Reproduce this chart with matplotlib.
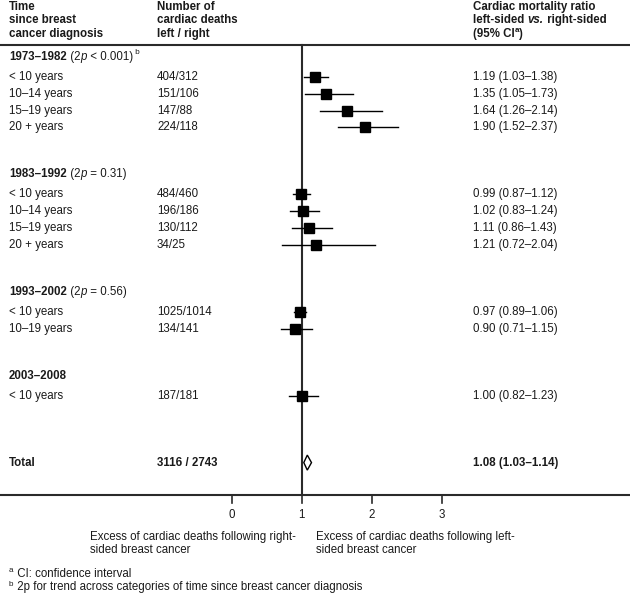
import matplotlib.pyplot as plt

plt.rcParams['font.family'] = ['Liberation Sans', 'DejaVu Sans']

# data
groups = ["1973\u20131982", "1983\u20131992", "1993\u20132002", "2003\u20132008"]
trend_p = ["< 0.001", "= 0.31", "= 0.56", None]
periods = [
    ["< 10 years", "10\u201314 years", "15\u201319 years", "20 + years"],
    ["< 10 years", "10\u201314 years", "15\u201319 years", "20 + years"],
    ["< 10 years", "10\u201319 years"],
    ["< 10 years"],
]
deaths = [
    ["404/312", "151/106", "147/88", "224/118"],
    ["484/460", "196/186", "130/112", "34/25"],
    ["1025/1014", "134/141"],
    ["187/181"],
]
ratio = [[1.19, 1.35, 1.64, 1.90], [0.99, 1.02, 1.11, 1.21], [0.97, 0.90], [1.00]]
ci_lo = [[1.03, 1.05, 1.26, 1.52], [0.87, 0.83, 0.86, 0.72], [0.89, 0.71], [0.82]]
ci_hi = [[1.38, 1.73, 2.14, 2.37], [1.12, 1.24, 1.43, 2.04], [1.06, 1.15], [1.23]]
total_deaths = "3116 / 2743"
total_ratio, total_lo, total_hi = 1.08, 1.03, 1.14
ticks = [0, 1, 2, 3]

FS = 8.3
INK = '#1a1a1a'
LINE = '#2a2a2a'

fig = plt.figure(figsize=(6.3, 5.98), dpi=100)
ax = fig.add_axes([0, 0, 1, 1])
x0_px, unit_px = 231.7, 70.0
ax.set_xlim(-x0_px / unit_px, (630 - x0_px) / unit_px)
ax.set_ylim(598, 0)
ax.axis('off')
renderer = fig.canvas.get_renderer()


def px(p):
    return (p - x0_px) / unit_px


def parts_text(x_px, y, parts):
    # draw consecutive text pieces with different styles on one line
    x = x_px
    for s, kw in parts:
        kw = dict(kw)
        dy = kw.pop('dy', 0)
        t = ax.text(px(x), y - dy, s, va='center', ha='left', color=INK,
                    fontsize=kw.pop('size', FS), **kw)
        x += t.get_window_extent(renderer).width


col0, col1, col2 = 9, 157, 473

# column headers
for i, (a, b, c) in enumerate(zip(["Time", "since breast", "cancer diagnosis"],
                                  ["Number of", "cardiac deaths", "left / right"],
                                  ["Cardiac mortality ratio", None, None])):
    y = 7 + i * 13.3
    ax.text(px(col0), y, a, fontweight='bold', fontsize=FS, va='center', color=INK)
    ax.text(px(col1), y, b, fontweight='bold', fontsize=FS, va='center', color=INK)
    if c:
        ax.text(px(col2), y, c, fontweight='bold', fontsize=FS, va='center', color=INK)
parts_text(col2, 7 + 13.3, [("left-sided ", dict(fontweight='bold')),
                            ("vs.", dict(fontweight='bold', style='italic')),
                            (" right-sided", dict(fontweight='bold'))])
parts_text(col2, 7 + 26.6, [("(95% CI", dict(fontweight='bold')),
                            ("a", dict(fontweight='bold', size=FS * 0.7, dy=3)),
                            (")", dict(fontweight='bold'))])

ax.plot(ax.get_xlim(), [45, 45], color=LINE, lw=1.5)
ax.plot(ax.get_xlim(), [495, 495], color=LINE, lw=1.5)
ax.plot([1, 1], [45, 495], color=LINE, lw=1.5)

y = 57.0
for g in range(len(groups)):
    hdr = [(groups[g], dict(fontweight='bold'))]
    if trend_p[g]:
        hdr += [(" (2", {}), ("p", dict(style='italic')), (" " + trend_p[g] + ")", {})]
    if g == 0:
        hdr += [(" b", dict(size=FS * 0.7, dy=4))]
    parts_text(col0, y, hdr)
    y += 20
    for i in range(len(periods[g])):
        ax.text(px(col0), y, periods[g][i], fontsize=FS, va='center', color=INK)
        ax.text(px(col1), y, deaths[g][i], fontsize=FS, va='center', color=INK)
        r, lo, hi = ratio[g][i], ci_lo[g][i], ci_hi[g][i]
        ax.text(px(col2), y, f"{r:.2f} ({lo:.2f}\u2013{hi:.2f})", fontsize=FS,
                va='center', color=INK)
        ax.plot([lo, hi], [y, y], color='black', lw=1.0)
        ax.plot(r, y, 's', ms=6.6, color='black')
        y += 16.8
    y += 47 - 16.8

# total row
y = y - 47 + 67
ax.text(px(col0), y, "Total", fontweight='bold', fontsize=FS, va='center', color=INK)
ax.text(px(col1), y, total_deaths, fontweight='bold', fontsize=FS, va='center', color=INK)
ax.text(px(col2), y, f"{total_ratio:.2f} ({total_lo:.2f}\u2013{total_hi:.2f})",
        fontweight='bold', fontsize=FS, va='center', color=INK)
ax.fill([total_lo, total_ratio, total_hi, total_ratio], [y, y - 7.5, y, y + 7.5],
        facecolor='white', edgecolor='black', lw=1.0, zorder=3)

# x axis ticks
for t in ticks:
    ax.plot([t, t], [495, 503], color=LINE, lw=1.2)
    ax.text(t, 515, str(t), fontsize=FS, ha='center', va='center', color=INK)

ax.text(px(90), 537, "Excess of cardiac deaths following right-", fontsize=FS,
        va='center', color=INK)
ax.text(px(90), 550, "sided breast cancer", fontsize=FS, va='center', color=INK)
ax.text(px(316), 537, "Excess of cardiac deaths following left-", fontsize=FS,
        va='center', color=INK)
ax.text(px(316), 550, "sided breast cancer", fontsize=FS, va='center', color=INK)

parts_text(col0, 574, [("a", dict(size=FS * 0.7, dy=3)), (" CI: confidence interval", {})])
parts_text(col0, 587, [("b", dict(size=FS * 0.7, dy=3)),
                       (" 2p for trend across categories of time since breast cancer diagnosis", {})])

fig.savefig('out.png', dpi=100)
